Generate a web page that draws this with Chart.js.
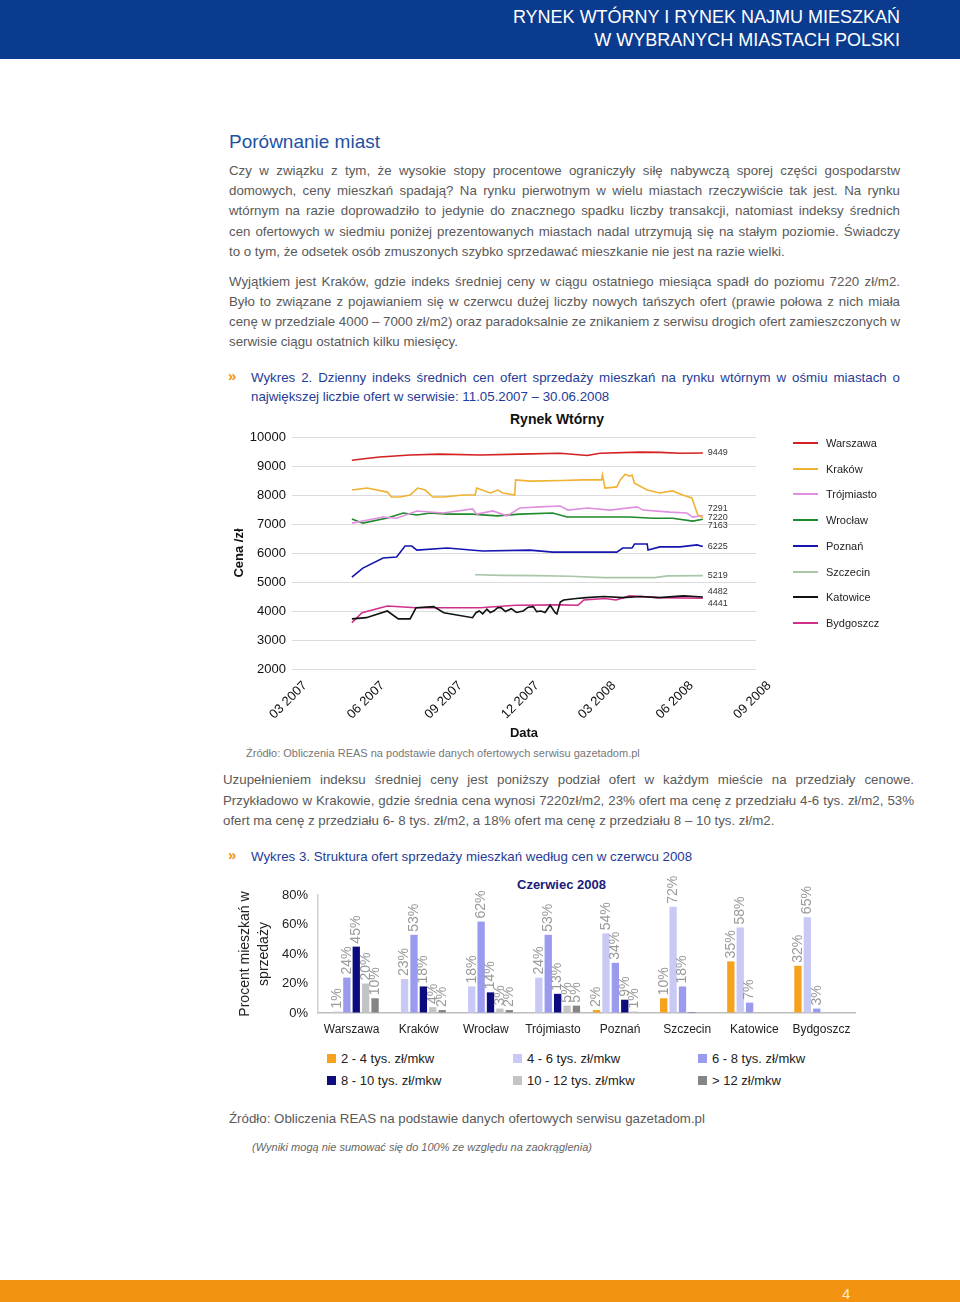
<!DOCTYPE html>
<html lang="pl">
<head>
<meta charset="utf-8">
<script src="https://cdn.jsdelivr.net/npm/chart.js@4/dist/chart.umd.min.js"></script>
<style>
  html,body{margin:0;padding:0;background:#fff;}
  body{width:960px;height:1302px;position:relative;overflow:hidden;font-family:"Liberation Sans",Arial,Helvetica,sans-serif;}
  .hdr{position:absolute;left:0;top:0;width:960px;height:59px;background:#0b3b8e;}
  .hdr div{position:absolute;right:60px;color:#fff;font-size:18px;line-height:22px;white-space:nowrap;}
  .ftr{position:absolute;left:0;top:1280px;width:960px;height:22px;background:#f29312;}
  .ftr span{position:absolute;left:842px;top:5px;color:#fbe9c8;font-size:15px;}
  .t{position:absolute;font-size:13.3px;line-height:20px;color:#5a5a5a;white-space:nowrap;}
  .j{display:inline-block;white-space:nowrap;}
  .blue{color:#1f3c98;}
  .arr{position:absolute;color:#f29312;font-weight:bold;font-size:15px;line-height:20px;}
  .lg{position:absolute;font-size:11px;color:#222;line-height:14px;white-space:nowrap;}
  .lg i{position:absolute;left:-33px;top:6px;width:25px;height:2px;}
  .bl{position:absolute;font-size:13px;color:#222;line-height:16px;white-space:nowrap;}
  .bl i{position:absolute;left:-14px;top:3px;width:9px;height:9px;}
  canvas{position:absolute;}
</style>
</head>
<body>
<div class="hdr">
  <div style="top:6px">RYNEK WTÓRNY I RYNEK NAJMU MIESZKAŃ</div>
  <div style="top:29px">W WYBRANYCH MIASTACH POLSKI</div>
</div>

<div class="t" style="left:229px;top:130px;font-size:19px;line-height:24px;color:#2352a3;">Porównanie miast</div>

<div class="t" style="left:229px;top:161px"><span class="j" data-w="671">Czy w związku z tym, że wysokie stopy procentowe ograniczyły siłę nabywczą sporej części gospodarstw</span></div>
<div class="t" style="left:229px;top:181px"><span class="j" data-w="671">domowych, ceny mieszkań spadają? Na rynku pierwotnym w wielu miastach rzeczywiście tak jest. Na rynku</span></div>
<div class="t" style="left:229px;top:201px"><span class="j" data-w="671">wtórnym na razie doprowadziło to jedynie do znacznego spadku liczby transakcji, natomiast indeksy średnich</span></div>
<div class="t" style="left:229px;top:222px"><span class="j" data-w="671">cen ofertowych w siedmiu poniżej prezentowanych miastach nadal utrzymują się na stałym poziomie. Świadczy</span></div>
<div class="t" style="left:229px;top:242px"><span>to o tym, że odsetek osób zmuszonych szybko sprzedawać mieszkanie nie jest na razie wielki.</span></div>

<div class="t" style="left:229px;top:272px"><span class="j" data-w="671">Wyjątkiem jest Kraków, gdzie indeks średniej ceny w ciągu ostatniego miesiąca spadł do poziomu 7220 zł/m2.</span></div>
<div class="t" style="left:229px;top:292px"><span class="j" data-w="671">Było to związane z pojawianiem się w czerwcu dużej liczby nowych tańszych ofert (prawie połowa z nich miała</span></div>
<div class="t" style="left:229px;top:312px"><span class="j" data-w="671">cenę w przedziale 4000 – 7000 zł/m2) oraz paradoksalnie ze znikaniem z serwisu drogich ofert zamieszczonych w</span></div>
<div class="t" style="left:229px;top:332px"><span>serwisie ciągu ostatnich kilku miesięcy.</span></div>

<div class="arr" style="left:228px;top:366px">»</div>
<div class="t blue" style="left:251px;top:368px"><span class="j" data-w="649">Wykres 2. Dzienny indeks średnich cen ofert sprzedaży mieszkań na rynku wtórnym w ośmiu miastach o</span></div>
<div class="t blue" style="left:251px;top:387px"><span>największej liczbie ofert w serwisie: 11.05.2007 – 30.06.2008</span></div>

<div class="t" style="left:510px;top:409px;font-size:14px;font-weight:bold;color:#111;">Rynek Wtórny</div>
<canvas id="lineChart" width="700" height="340" style="left:230px;top:405px"></canvas>
<div id="lineLegend"></div>

<div class="t" style="left:246px;top:745px;font-size:11px;line-height:16px;color:#777;">Źródło: Obliczenia REAS na podstawie danych ofertowych serwisu gazetadom.pl</div>

<div class="t" style="left:223px;top:770px"><span class="j" data-w="691">Uzupełnieniem indeksu średniej ceny jest poniższy podział ofert w każdym mieście na przedziały cenowe.</span></div>
<div class="t" style="left:223px;top:791px"><span class="j" data-w="691">Przykładowo w Krakowie, gdzie średnia cena wynosi 7220zł/m2, 23% ofert ma cenę z przedziału 4-6 tys. zł/m2, 53%</span></div>
<div class="t" style="left:223px;top:811px"><span>ofert ma cenę z przedziału 6- 8 tys. zł/m2, a 18% ofert ma cenę z przedziału 8 – 10 tys. zł/m2.</span></div>

<div class="arr" style="left:228px;top:845px">»</div>
<div class="t blue" style="left:251px;top:847px">Wykres 3. Struktura ofert sprzedaży mieszkań według cen w czerwcu 2008</div>

<div class="t" style="left:517px;top:876px;font-size:13px;line-height:18px;font-weight:bold;color:#1a1a78;">Czerwiec 2008</div>
<canvas id="barChart" width="640" height="175" style="left:230px;top:870px"></canvas>
<div id="barLegend"></div>

<div class="t" style="left:229px;top:1109px">Źródło: Obliczenia REAS na podstawie danych ofertowych serwisu gazetadom.pl</div>
<div class="t" style="left:252px;top:1139px;font-size:11px;line-height:16px;font-style:italic;color:#666;">(Wyniki mogą nie sumować się do 100% ze względu na zaokrąglenia)</div>

<div class="ftr"><span>4</span></div>

<script>
// ---------- Wykres 2: x = days since 2007-03-01 ----------
const xTickDays   = [0, 92, 184, 275, 366, 458, 550];
const xTickLabels = ['03 2007','06 2007','09 2007','12 2007','03 2008','06 2008','09 2008'];
const yTickMin = 2000, yTickMax = 10000, yTickStep = 1000;

const cityNames  = ['Warszawa','Kraków','Trójmiasto','Wrocław','Poznań','Szczecin','Katowice','Bydgoszcz'];
const cityColors = ['#d42020','#f0b232','#e090e0','#1f8a2a','#1515b0','#a9c6a9','#111111','#d0308c'];

const warszawaDays = [71,88,104,140,175,223,270,318,350,365,412,436,460,487];
const warszawaVals = [9200,9260,9310,9380,9410,9380,9410,9440,9360,9440,9480,9470,9440,9449];

const krakowDays = [71,89,113,118,128,140,149,158,167,179,203,217,219,235,244,250,264,265,282,320,345,367,368,371,385,389,395,400,403,406,421,436,451,463,474,481,487];
const krakowVals = [8172,8240,8100,7930,7930,8000,8240,8170,7930,7930,8000,8000,8240,8070,8170,8070,8000,8520,8480,8500,8520,8520,8690,8240,8280,8520,8720,8650,8690,8410,8170,8070,8140,8000,7900,7310,7220];

const trojmiastoDays = [71,108,124,148,179,214,219,238,255,270,294,318,327,350,377,409,416,448,468,475,487];
const trojmiastoVals = [7030,7240,7200,7450,7380,7520,7340,7450,7280,7550,7590,7620,7480,7550,7480,7590,7480,7410,7380,7240,7291];

const wroclawDays = [71,84,113,132,148,164,184,214,243,270,309,326,368,400,428,451,475,487];
const wroclawVals = [7170,7030,7210,7380,7310,7380,7340,7340,7280,7340,7380,7240,7240,7240,7200,7200,7100,7163];

const poznanDays = [71,84,108,124,134,142,148,184,226,282,309,350,385,392,403,406,421,422,436,460,480,487];
const poznanVals = [5170,5480,5830,5860,6240,6240,6100,6170,6070,6100,6030,6030,6030,6170,6170,6310,6310,6100,6210,6210,6280,6225];

const szczecinDays = [217,250,290,330,370,430,445,487];
const szczecinVals = [5250,5230,5220,5200,5150,5150,5210,5219];

const katowiceDays = [71,88,113,126,140,147,168,180,214,218,222,226,231,235,239,244,248,253,260,266,274,280,286,290,295,300,306,312,314,318,322,337,349,370,392,413,435,464,487];
const katowiceVals = [3730,3770,4000,3730,3730,4110,4150,3940,3770,3940,4000,3900,4060,3950,4000,4120,4110,3980,4080,3950,4000,4130,4150,3980,4000,3950,4200,3940,3900,4310,4380,4430,4460,4500,4460,4500,4460,4520,4482];

const bydgoszczDays = [71,83,113,147,223,265,316,339,346,371,384,400,435,487];
const bydgoszczVals = [3600,3940,4170,4110,4110,4200,4210,4200,4380,4430,4380,4520,4460,4441];

const cityDays = [warszawaDays,krakowDays,trojmiastoDays,wroclawDays,poznanDays,szczecinDays,katowiceDays,bydgoszczDays];
const cityVals = [warszawaVals,krakowVals,trojmiastoVals,wroclawVals,poznanVals,szczecinVals,katowiceVals,bydgoszczVals];

// ---------- Wykres 3 ----------
const barCities = ['Warszawa','Kraków','Wrocław','Trójmiasto','Poznań','Szczecin','Katowice','Bydgoszcz'];
const bandNames  = ['2 - 4 tys. zł/mkw','4 - 6 tys. zł/mkw','6 - 8 tys. zł/mkw','8 - 10 tys. zł/mkw','10 - 12 tys. zł/mkw','> 12 zł/mkw'];
const bandColors = ['#f7a21c','#c9c9f5','#9a9aee','#0c0c7e','#c4c4c4','#858585'];
const band2to4   = [0,0,0,0,2,10,35,32];
const band4to6   = [1,23,18,24,54,72,58,65];
const band6to8   = [24,53,62,53,34,18,7,3];
const band8to10  = [45,18,14,13,9,0.5,0,0];
const band10to12 = [20,4,3,5,1,0,0,0];
const bandOver12 = [10,2,2,5,0,0,0,0];
const bandValues = [band2to4,band4to6,band6to8,band8to10,band10to12,bandOver12];
const pctTicks = [0,20,40,60,80];

const FONT = '"Liberation Sans", Arial, Helvetica, sans-serif';
Chart.defaults.font.family = FONT;
Chart.defaults.animation = false;

// Justify text lines
function justify(){
  document.querySelectorAll('.j').forEach(el=>{
    el.style.wordSpacing='0px';
    const target = parseFloat(el.dataset.w);
    const natural = el.getBoundingClientRect().width;
    const spaces = (el.textContent.match(/ /g)||[]).length;
    if (spaces) el.style.wordSpacing = ((target-natural)/spaces)+'px';
  });
}
justify();
if (document.fonts && document.fonts.ready) document.fonts.ready.then(justify);

// Line legend (HTML)
const ll = document.getElementById('lineLegend');
cityNames.forEach((n,i)=>{
  const d = document.createElement('div');
  d.className='lg';
  d.style.left='826px';
  d.style.top=(436+i*25.7)+'px';
  d.innerHTML='<i style="background:'+cityColors[i]+'"></i>'+n;
  ll.appendChild(d);
});

// Bar legend (HTML)
const bl = document.getElementById('barLegend');
const blX = [341,527,712], blY=[1051,1073];
bandNames.forEach((n,i)=>{
  const d=document.createElement('div');
  d.className='bl';
  d.style.left=blX[i%3]+'px';
  d.style.top=blY[Math.floor(i/3)]+'px';
  d.innerHTML='<i style="background:'+bandColors[i]+'"></i>'+n;
  bl.appendChild(d);
});

// End value labels plugin
const endLabels = {
  id:'endLabels',
  afterDatasetsDraw(chart){
    const ctx=chart.ctx;
    const items=[];
    chart.data.datasets.forEach((ds,i)=>{
      const meta=chart.getDatasetMeta(i);
      const pt=meta.data[meta.data.length-1];
      const v=ds.data[ds.data.length-1].y;
      items.push({x:pt.x+5,y:pt.y,t:String(v)});
    });
    items.sort((a,b)=>a.y-b.y);
    const gap=8.5;
    let groups=[];
    items.forEach(it=>{
      const g=groups[groups.length-1];
      if(g && it.y - g[g.length-1].y < gap){ g.push(it);} else groups.push([it]);
    });
    ctx.save();
    ctx.font='9px '+FONT;
    ctx.fillStyle='#333';
    ctx.textBaseline='middle';
    groups.forEach(g=>{
      const mean=g.reduce((s,a)=>s+a.y,0)/g.length;
      const sp = g.length===2 ? 12.5 : gap;
      g.forEach((it,k)=>{
        const y=mean+(k-(g.length-1)/2)*sp;
        ctx.fillText(it.t,it.x,y);
      });
    });
    ctx.restore();
  }
};

new Chart(document.getElementById('lineChart'),{
  type:'line',
  data:{
    datasets: cityNames.map((n,i)=>({
      label:n,
      data: cityDays[i].map((d,k)=>({x:d,y:cityVals[i][k]})),
      borderColor:cityColors[i],
      backgroundColor:cityColors[i],
      borderWidth:1.6,
      pointRadius:0,
      tension:0,
      fill:false
    }))
  },
  options:{
    responsive:false,
    devicePixelRatio:1,
    layout:{padding:{top:32,right:174,left:0,bottom:0}},
    plugins:{legend:{display:false},tooltip:{enabled:false},title:{display:false}},
    scales:{
      x:{
        type:'linear',
        min:xTickDays[0], max:xTickDays[xTickDays.length-1],
        afterBuildTicks(s){ s.ticks = xTickDays.map(v=>({value:v})); },
        afterFit(s){ s.height=76; },
        grid:{display:false},
        border:{display:false},
        ticks:{
          autoSkip:false, minRotation:45, maxRotation:45, labelOffset:13, padding:1,
          color:'#111', font:{size:13},
          callback:(v,i)=>xTickLabels[i]
        },
        title:{display:true,text:'Data',color:'#111',font:{size:13,weight:'bold'},padding:{top:0,bottom:4}}
      },
      y:{
        min:yTickMin,max:yTickMax,
        afterFit(s){ s.width=62; },
        ticks:{stepSize:yTickStep,color:'#111',font:{size:13},padding:6,callback:v=>String(v)},
        grid:{color:'#dcdcdc',drawTicks:false,lineWidth:1},
        border:{display:false},
        title:{display:true,text:'Cena /zł',color:'#111',font:{size:13,weight:'bold'},padding:{top:2,bottom:0}}
      }
    }
  },
  plugins:[endLabels]
});

// Bar value labels
const barLabels={
  id:'barLabels',
  afterDatasetsDraw(chart){
    const ctx=chart.ctx;
    ctx.save();
    ctx.font='14px '+FONT;
    ctx.fillStyle='#9a9a9a';
    ctx.textAlign='left';
    ctx.textBaseline='middle';
    chart.data.datasets.forEach((ds,i)=>{
      const meta=chart.getDatasetMeta(i);
      meta.data.forEach((el,k)=>{
        const v=ds.data[k];
        if(v>=1){
          ctx.save();
          ctx.translate(el.x,el.y-3);
          ctx.rotate(-Math.PI/2);
          ctx.fillText(v+'%',0,0);
          ctx.restore();
        }
      });
    });
    ctx.restore();
  }
};

new Chart(document.getElementById('barChart'),{
  type:'bar',
  data:{
    labels:barCities,
    datasets: bandNames.map((n,i)=>({
      label:n,
      data:bandValues[i],
      backgroundColor:bandColors[i],
      borderWidth:0,
      categoryPercentage:0.84,
      barPercentage:0.78
    }))
  },
  options:{
    responsive:false,
    devicePixelRatio:1,
    layout:{padding:{top:25,right:15,left:0,bottom:0}},
    plugins:{legend:{display:false},tooltip:{enabled:false}},
    scales:{
      x:{
        afterFit(s){ s.height=32; },
        grid:{display:true,color:'rgba(0,0,0,0)',drawTicks:false},
        border:{display:true,color:'#bdbdbd',width:1.5},
        ticks:{color:'#222',font:{size:12},padding:9}
      },
      y:{
        min:0,max:80,
        afterBuildTicks(s){ s.ticks=pctTicks.map(v=>({value:v})); },
        afterFit(s){ s.width=88; },
        grid:{display:true,color:'rgba(0,0,0,0)',drawTicks:false},
        border:{display:true,color:'#d0d0d0',width:1.5},
        ticks:{color:'#222',font:{size:13},padding:10,callback:v=>v+'%'},
        title:{display:true,text:['Procent mieszkań w','sprzedaży'],color:'#222',font:{size:14,lineHeight:1.35},padding:{top:6,bottom:0}}
      }
    }
  },
  plugins:[barLabels]
});
</script>
</body>
</html>
